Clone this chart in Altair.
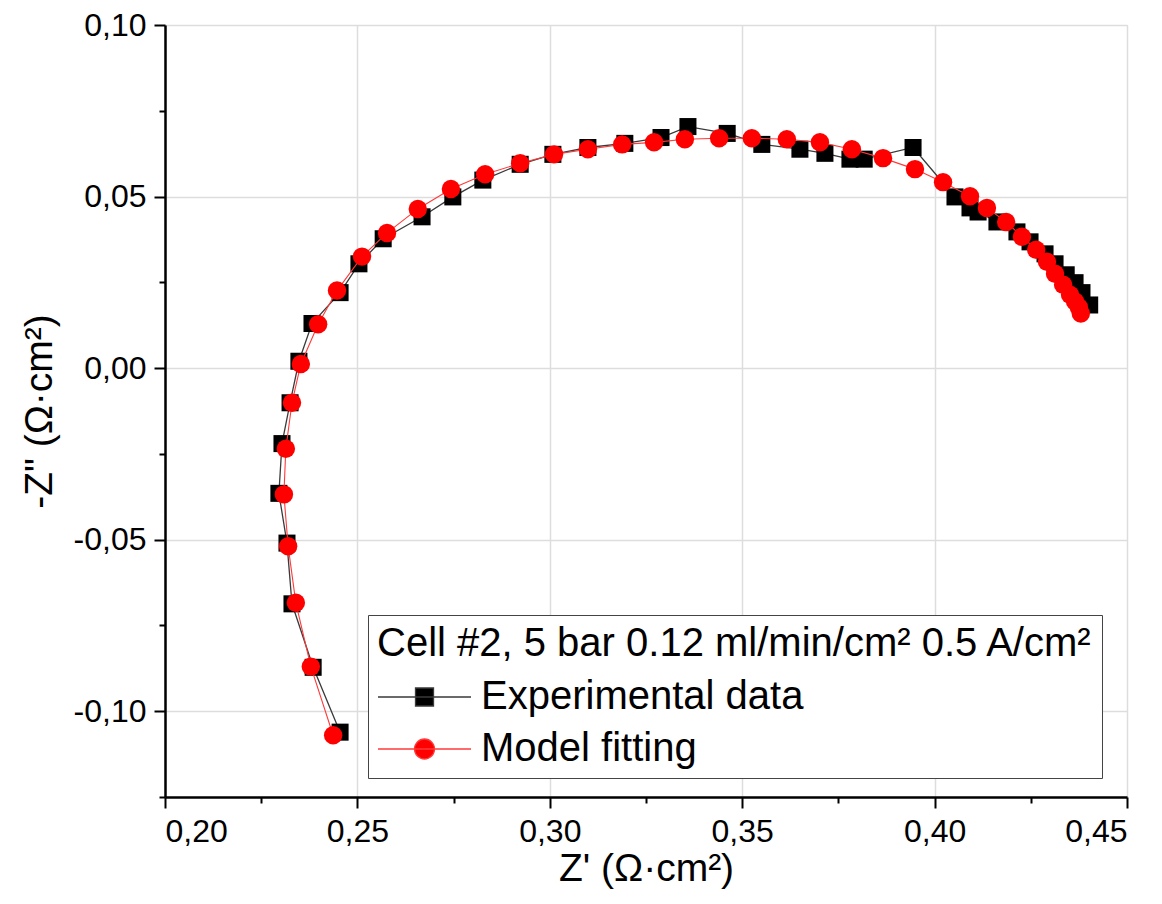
import altair as alt
import pandas as pd

# Experimental data (black squares), in measurement order
exp_x = [0.2455, 0.2385, 0.2330, 0.2317, 0.2296, 0.2304, 0.2325, 0.2348, 0.2382, 0.2455,
         0.2504, 0.2567, 0.2668, 0.2748, 0.2826, 0.2923, 0.3008, 0.3099, 0.3195, 0.3289,
         0.3359, 0.3461, 0.3551, 0.3650, 0.3715, 0.3780, 0.3817, 0.3944, 0.4053, 0.4092,
         0.4113, 0.4162, 0.4214, 0.4248, 0.4287, 0.4313, 0.4342, 0.4365, 0.4383, 0.4403]
exp_y = [-0.1061, -0.0872, -0.0687, -0.0510, -0.0365, -0.0220, -0.0101, 0.0020, 0.0130, 0.0220,
         0.0304, 0.0377, 0.0441, 0.0499, 0.0548, 0.0594, 0.0623, 0.0643, 0.0655, 0.0672,
         0.0704, 0.0684, 0.0652, 0.0638, 0.0626, 0.0609, 0.0609, 0.0643, 0.0499, 0.0467,
         0.0455, 0.0426, 0.0397, 0.0368, 0.0333, 0.0304, 0.0272, 0.0249, 0.0220, 0.0184]

# Model fitting (red circles)
fit_x = [0.2437, 0.2379, 0.2340, 0.2320, 0.2309, 0.2314, 0.2330, 0.2353, 0.2398, 0.2447,
         0.2512, 0.2577, 0.2657, 0.2743, 0.2832, 0.2923, 0.3011, 0.3099, 0.3188, 0.3271,
         0.3351, 0.3440, 0.3525, 0.3616, 0.3702, 0.3785, 0.3866, 0.3949, 0.4022, 0.4092,
         0.4136, 0.4186, 0.4227, 0.4264, 0.4292, 0.4313, 0.4334, 0.4352, 0.4365, 0.4375,
         0.4380]
fit_y = [-0.1070, -0.0870, -0.0684, -0.0519, -0.0368, -0.0235, -0.0101, 0.0012, 0.0128, 0.0226,
         0.0325, 0.0394, 0.0464, 0.0522, 0.0565, 0.0597, 0.0623, 0.0638, 0.0652, 0.0658,
         0.0667, 0.0670, 0.0670, 0.0667, 0.0658, 0.0638, 0.0612, 0.0580, 0.0542, 0.0501,
         0.0467, 0.0426, 0.0383, 0.0345, 0.0310, 0.0275, 0.0243, 0.0214, 0.0194, 0.0177,
         0.0159]

series_names = ["Experimental data", "Model fitting"]
legend_title = "Cell #2, 5 bar 0.12 ml/min/cm\u00b2 0.5 A/cm\u00b2"
x_title = "Z' (\u03a9\u00b7cm\u00b2)"
y_title = '-Z" (\u03a9\u00b7cm\u00b2)'

x_ticks = [0.2, 0.225, 0.25, 0.275, 0.3, 0.325, 0.35, 0.375, 0.4, 0.425, 0.45]
y_ticks = [-0.125, -0.1, -0.075, -0.05, -0.025, 0.0, 0.025, 0.05, 0.075, 0.1]

exp_df = pd.DataFrame({"x": exp_x, "y": exp_y, "i": list(range(len(exp_x))), "series": series_names[0]})
fit_df = pd.DataFrame({"x": fit_x, "y": fit_y, "i": list(range(len(fit_x))), "series": series_names[1]})
all_df = pd.concat([exp_df, fit_df], ignore_index=True)

major = "abs(datum.value*20 - round(datum.value*20)) < 0.001"
lab = (f"{major} ? ((datum.value < -0.0001 ? '-' : '') + "
       "replace(format(abs(datum.value), '.2f'), '.', ',')) : ''")

FONT = "Liberation Sans"

def make_axis(values, title, title_pad, label_pad):
    return alt.Axis(
        values=values, labelExpr=lab, title=title,
        tickSize={"condition": {"test": major, "value": 11}, "value": 6},
        gridOpacity={"condition": {"test": major, "value": 1}, "value": 0},
        gridColor="#dddddd", gridWidth=1.5,
        domainColor="black", domainWidth=2.5,
        tickColor="black", tickWidth=2,
        labelFont=FONT, labelFontSize=32, labelColor="black", labelPadding=label_pad,
        titleFont=FONT, titleFontSize=39, titleFontWeight="normal", titleColor="black",
        titlePadding=title_pad, labelOverlap=False,
    )

x_enc = alt.X("x:Q", scale=alt.Scale(domain=[0.2, 0.45], nice=False, zero=False),
              axis=make_axis(x_ticks, x_title, 2, 8))
y_enc = alt.Y("y:Q", scale=alt.Scale(domain=[-0.125, 0.1], nice=False, zero=False),
              axis=make_axis(y_ticks, y_title, 14, 8))

exp_line = alt.Chart(exp_df).mark_line(color="#3a3a3a", strokeWidth=1.3).encode(
    x=x_enc, y=y_enc, order="i:Q")
exp_pts = alt.Chart(exp_df).mark_point(shape="square", filled=True, size=290, color="black",
                                       opacity=1).encode(x=x_enc, y=y_enc)
fit_line = alt.Chart(fit_df).mark_line(color="#ff3a3a", strokeWidth=1.1).encode(
    x=x_enc, y=y_enc, order="i:Q")
fit_pts = alt.Chart(fit_df).mark_point(shape="circle", filled=True, size=340, color="#ff0000",
                                       opacity=1).encode(x=x_enc, y=y_enc)

sq_path = "M-1,0H3.65M0.875,-0.45H1.775V0.45H0.875Z"
ci_path = "M-1,0H3.65M1.825,0A0.5,0.5,0,1,1,0.825,0A0.5,0.5,0,1,1,1.825,0Z"

leg = alt.Legend(
    title=legend_title, orient="none", legendX=203, legendY=590,
    titleFont=FONT, titleFontSize=40, titleFontWeight="normal", titleColor="black",
    labelFont=FONT, labelFontSize=40, labelColor="black",
    titleLimit=2000, labelLimit=2000,
    symbolSize=1600, symbolOpacity=1, symbolStrokeWidth=1.3,
    labelOffset=62, padding=9, rowPadding=11, titlePadding=12,
    strokeColor="#444444", fillColor="white",
)

legend_layer = alt.Chart(all_df).mark_point(filled=True, opacity=0, strokeWidth=1.3).encode(
    x=x_enc, y=y_enc,
    fill=alt.Fill("series:N", scale=alt.Scale(domain=series_names, range=["black", "#ff0000"]), legend=leg),
    stroke=alt.Stroke("series:N", scale=alt.Scale(domain=series_names, range=["#3a3a3a", "#ff3a3a"]), legend=leg),
    shape=alt.Shape("series:N", scale=alt.Scale(domain=series_names, range=[sq_path, ci_path]), legend=leg),
)

chart = alt.layer(exp_line, exp_pts, fit_line, fit_pts, legend_layer).properties(
    width=962, height=772,
    autosize=alt.AutoSizeParams(type="none"),
    padding={"left": 157, "top": 17, "right": 27, "bottom": 99},
).configure_view(stroke="black", strokeWidth=2.5).configure(background="white")

chart.save("out.html", embed_options={"renderer": "svg", "actions": False})
